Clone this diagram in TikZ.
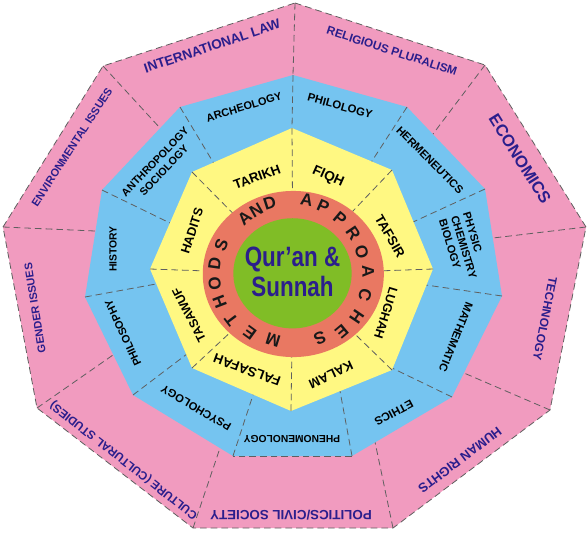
\documentclass[tikz,border=0pt]{standalone}
\usepackage{fontspec}
\setmainfont{Liberation Sans}
\usepackage{graphicx}
\definecolor{pinkc}{RGB}{241,155,191}
\definecolor{bluec}{RGB}{117,196,240}
\definecolor{yellowc}{RGB}{255,248,130}
\definecolor{redc}{RGB}{233,120,98}
\definecolor{greenc}{RGB}{128,189,38}
\definecolor{txtblue}{RGB}{43,30,140}
\definecolor{dashc}{RGB}{95,95,95}
\begin{document}
\begin{tikzpicture}[x=0.75pt,y=-0.75pt,
  divider/.style={draw=dashc, line width=0.6pt, dash pattern=on 5pt off 3pt},
  ext/.style={shorten >=-5pt},
  plab/.style={font=\bfseries\fontsize{#1pt}{#1pt}\selectfont, text=txtblue, inner sep=0pt},
  blab/.style={font=\bfseries\fontsize{#1pt}{#1pt}\selectfont, text=black, inner sep=0pt},
  blabm/.style={font=\bfseries\fontsize{#1pt}{9.4pt}\selectfont, text=black, inner sep=0pt, align=center},
  blabl/.style={font=\bfseries\fontsize{#1pt}{9.4pt}\selectfont, text=black, inner sep=0pt, align=left},
  ylab/.style={font=\bfseries\fontsize{#1pt}{#1pt}\selectfont, text=black, inner sep=0pt},
  ringlet/.style={font=\bfseries\fontsize{12.8pt}{12.8pt}\selectfont, text=black!90, inner sep=0pt},
  core/.style={font=\bfseries\fontsize{21pt}{21pt}\selectfont, text=txtblue, inner sep=0pt, anchor=base}]
\useasboundingbox (0,0) rectangle (588,532);
% outer (pink) vertices
\coordinate (p1) at (295,3);
\coordinate (p2) at (485,65);
\coordinate (p3) at (586,227);
\coordinate (p4) at (550,410);
\coordinate (p5) at (393,528);
\coordinate (p6) at (193,528);
\coordinate (p7) at (37,408);
\coordinate (p8) at (3,227);
\coordinate (p9) at (103,66);
% blue vertices
\coordinate (b1) at (293,75);
\coordinate (b2) at (407,107);
\coordinate (b3) at (485,189);
\coordinate (b4) at (502,296);
\coordinate (b5) at (452,397);
\coordinate (b6) at (352,456);
\coordinate (b7) at (233,456);
\coordinate (b8) at (133,395);
\coordinate (b9) at (85,297);
\coordinate (b10) at (102,190);
\coordinate (b11) at (180,107);
% yellow vertices
\coordinate (y1) at (292,128);
\coordinate (y2) at (392,170);
\coordinate (y3) at (433,269);
\coordinate (y4) at (392,370);
\coordinate (y5) at (291,411);
\coordinate (y6) at (192,368);
\coordinate (y7) at (150,269);
\coordinate (y8) at (192,172);
\coordinate (ctr) at (293,274);
% pink ring
\filldraw[fill=pinkc, divider] (p1)--(p2)--(p3)--(p4)--(p5)--(p6)--(p7)--(p8)--(p9)--cycle;
\coordinate (q1) at (293,75);
\coordinate (q2) at (433,134);
\coordinate (q3) at (493,238);
\coordinate (q4) at (464,373);
\coordinate (q5) at (375,442);
\coordinate (q6) at (220,448);
\coordinate (q7) at (113,355);
\coordinate (q8) at (95,231);
\coordinate (q9) at (160,128);
\foreach \i in {1,...,9} \draw[divider, ext] (p\i) -- (q\i);
% blue ring
\fill[bluec] (b1)--(b2)--(b3)--(b4)--(b5)--(b6)--(b7)--(b8)--(b9)--(b10)--(b11)--cycle;
\coordinate (c1) at (292,128);
\coordinate (c2) at (372,161);
\coordinate (c3) at (413,222);
\coordinate (c4) at (426,285);
\coordinate (c5) at (392,368);
\coordinate (c6) at (340,391);
\coordinate (c7) at (253,395);
\coordinate (c8) at (187,354);
\coordinate (c9) at (156,284);
\coordinate (c10) at (170,223);
\coordinate (c11) at (213,162);
\foreach \i in {1,...,11} \draw[divider, ext] (b\i) -- (c\i);
\draw[divider] (b6) -- (b7);
% yellow ring
\fill[yellowc] (y1)--(y2)--(y3)--(y4)--(y5)--(y6)--(y7)--(y8)--cycle;
\foreach \i in {1,...,8} \draw[divider] (y\i) -- (ctr);
% red and green discs
\fill[redc] (293.3,274) ellipse [x radius=67.9pt, y radius=62.3pt];
\fill[greenc] (292.5,273.3) ellipse [x radius=44.4pt, y radius=41.3pt];
% core text
\node[core] (core1) at (292.5,266) {\scalebox{0.8}[1]{Qur’an \&}};
\node[core] (core2) at (292.5,296) {\scalebox{0.8}[1]{Sunnah}};
% ring letters
\foreach \ch/\xx/\yy/\rr [count=\k] in {M/273/340/163, E/249.7/333.3/144, T/231.3/320/127, H/219.7/301.7/111, O/214.7/283.3/97, D/214.7/263.3/82, S/221.3/245/68, A/244.7/218.3/41, N/256.3/210/30, D/269.7/203.3/18, A/306.7/200/-10.5, P/323.3/206.7/-24, P/340/218.3/-40, R/353.3/233.3/-56, O/361.7/251.7/-72, A/368.3/271.7/-88, C/365/295/-106, H/356.7/316.7/-124, E/341.7/331.7/-140, S/320/338.3/-157}
  \node[ringlet, rotate=\rr] (ring\k) at (\xx,\yy) {\ch};
% pink labels
\node[plab=10.1, rotate=18.5] (tIL) at (212,46) {INTERNATIONAL LAW};
\node[plab=8.8, rotate=-18] (tRP) at (392,51) {RELIGIOUS PLURALISM};
\node[plab=12.4, rotate=-58] (tEC) at (520,159) {ECONOMICS};
\node[plab=9, rotate=-101] (tTE) at (545,319) {TECHNOLOGY};
\node[plab=9.7, rotate=-143] (tHR) at (460,460) {HUMAN RIGHTS};
\node[plab=10, rotate=180] (tPO) at (291,515) {POLITICS/CIVIL SOCIETY};
\node[plab=8.8, rotate=142] (tCU) at (124,460) {CULTURE (CULTURAL STUDIES)};
\node[plab=8.25, rotate=99] (tGE) at (35,308) {GENDER ISSUES};
\node[plab=8.25, rotate=57] (tEN) at (72,147) {ENVIRONMENTAL ISSUES};
% blue labels
\node[blab=8.2, rotate=17] (tAR) at (244,107) {ARCHEOLOGY};
\node[blab=8.5, rotate=-15.5] (tPL) at (340,106) {PHILOLOGY};
\node[blab=8.4, rotate=-45] (tHE) at (430,160) {HERMENEUTICS};
\node[blabl=8.3, rotate=-73] (tPC) at (464,247) {PHYSIC\\CHEMISTRY\\BIOLOGY};
\node[blab=8.4, rotate=-112] (tMA) at (456,337) {MATHEMATIC};
\node[blab=8.6, rotate=-152] (tET) at (394,413) {ETHICS};
\node[blab=7.7, rotate=180] (tPH) at (292,439) {PHENOMENOLOGY};
\node[blab=8.4, rotate=149.5] (tPS) at (196,408) {PSYCHOLOGY};
\node[blab=8.2, rotate=115] (tPI) at (123,333) {PHILOSOPHY};
\node[blab=7.8, rotate=90] (tHI) at (113,249) {HISTORY};
\node[blabm=8, rotate=46] (tAN) at (159.5,166) {ANTHROPOLOGY\\SOCIOLOGY};
% yellow labels
\node[ylab=9.9, rotate=20] (tTA) at (257,177) {TARIKH};
\node[ylab=10.3, rotate=-24] (tFI) at (328,177) {FIQH};
\node[ylab=9.9, rotate=-60] (tTF) at (390,236) {TAFSIR};
\node[ylab=9.4, rotate=-107] (tLU) at (386,313) {LUGHAH};
\node[ylab=9.8, rotate=-155] (tKA) at (331,375) {KALAM};
\node[ylab=10, rotate=160] (tFA) at (247,370) {FALSAFAH};
\node[ylab=9.2, rotate=117] (tTS) at (189,315) {TASAWUF};
\node[ylab=9.5, rotate=72] (tHA) at (192,231) {HADITS};
\end{tikzpicture}
\end{document}
